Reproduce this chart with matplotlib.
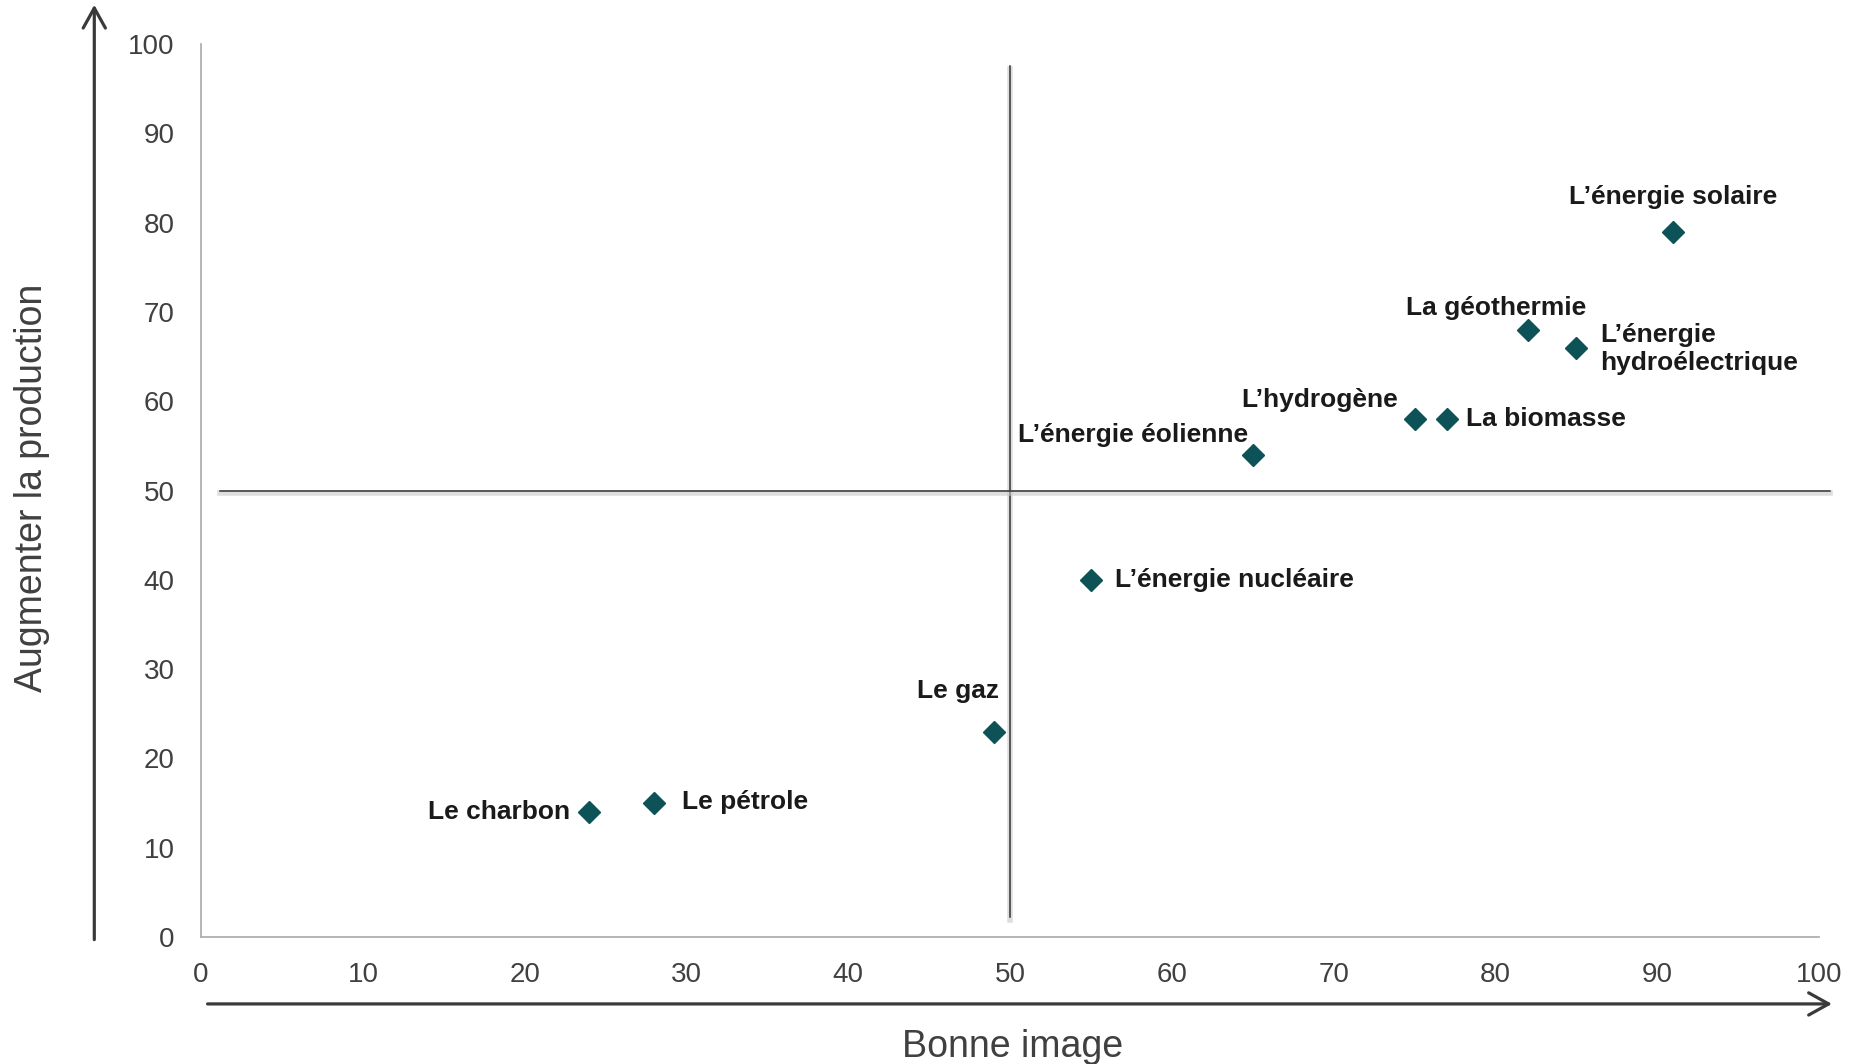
import matplotlib
matplotlib.use("Agg")
import matplotlib.pyplot as plt
import matplotlib.patheffects as pe

plt.rcParams['font.family'] = ['Liberation Sans', 'DejaVu Sans']

# data
labels = ["Le charbon", "Le pétrole", "Le gaz", "L’énergie nucléaire",
          "L’énergie éolienne", "L’hydrogène", "La biomasse", "La géothermie",
          "L’énergie\nhydroélectrique", "L’énergie solaire"]
image = [24, 28, 49, 55, 65, 75, 77, 82, 85, 91]
production = [14, 15, 23, 40, 54, 58, 58, 68, 66, 79]

# label placement (offset in points, alignment)
offsets = [(-14, 0), (20, 1), (4, 29), (17, 0), (-3, 14), (-12, 14),
           (14, 0), (-23, 16), (17, -1), (0, 25)]
aligns = ["right", "left", "right", "left", "right", "right",
          "left", "center", "left", "center"]

ticks = [0, 10, 20, 30, 40, 50, 60, 70, 80, 90, 100]
split = 50

fig = plt.figure(figsize=(18.55, 10.64), dpi=100)
ax = fig.add_axes([0.1084, 0.1194, 0.8722, 0.8392])

ax.set_xlim(0, 100)
ax.set_ylim(0, 100)
ax.set_xticks(ticks)
ax.set_yticks(ticks)
ax.tick_params(length=0, labelsize=20, labelcolor='#404040')
ax.tick_params(axis='y', pad=19)
ax.tick_params(axis='x', pad=18)
for s in ['top', 'right']:
    ax.spines[s].set_visible(False)
for s in ['left', 'bottom']:
    ax.spines[s].set_color('#b0b0b0')
    ax.spines[s].set_linewidth(1.3)

# quadrant lines
shadow = [pe.SimpleLineShadow(offset=(0, -2), shadow_color='#c8c8c8', alpha=0.6, linewidth=4), pe.Normal()]
ax.plot([split, split], [2.2, 97.5], color='#333333', lw=1.1, clip_on=False, path_effects=shadow, zorder=2)
ax.plot([1.2, 100.7], [split, split], color='#333333', lw=1.1, clip_on=False, path_effects=shadow, zorder=2)

ax.plot(image, production, 'D', color='#0d5257', markersize=11, zorder=3)

for lab, x, y, off, ha in zip(labels, image, production, offsets, aligns):
    ax.annotate(lab, (x, y), xytext=off, textcoords='offset points',
                ha=ha, va='center', fontsize=19, fontweight='bold', color='#1a1a1a',
                linespacing=1.25)

# arrows for the axes
arrow = dict(arrowstyle='->,head_length=0.72,head_width=0.4', color='#3a3a3a',
             lw=2.3, mutation_scale=20, shrinkA=0, shrinkB=0)
ax.annotate('', xy=(-0.066, 1.044), xytext=(-0.066, -0.003),
            xycoords='axes fraction', textcoords='axes fraction', arrowprops=arrow, annotation_clip=False)
ax.annotate('', xy=(1.008, -0.075), xytext=(0.004, -0.075),
            xycoords='axes fraction', textcoords='axes fraction', arrowprops=arrow, annotation_clip=False)

fig.text(1013 / 1855, 1 - 1047 / 1064, 'Bonne image', ha='center', va='center',
         fontsize=27, color='#404040')
fig.text(32 / 1855, 1 - 488 / 1064, 'Augmenter la production', ha='center', va='center',
         rotation=90, fontsize=27, color='#404040')

fig.savefig('out.png', dpi=100)
